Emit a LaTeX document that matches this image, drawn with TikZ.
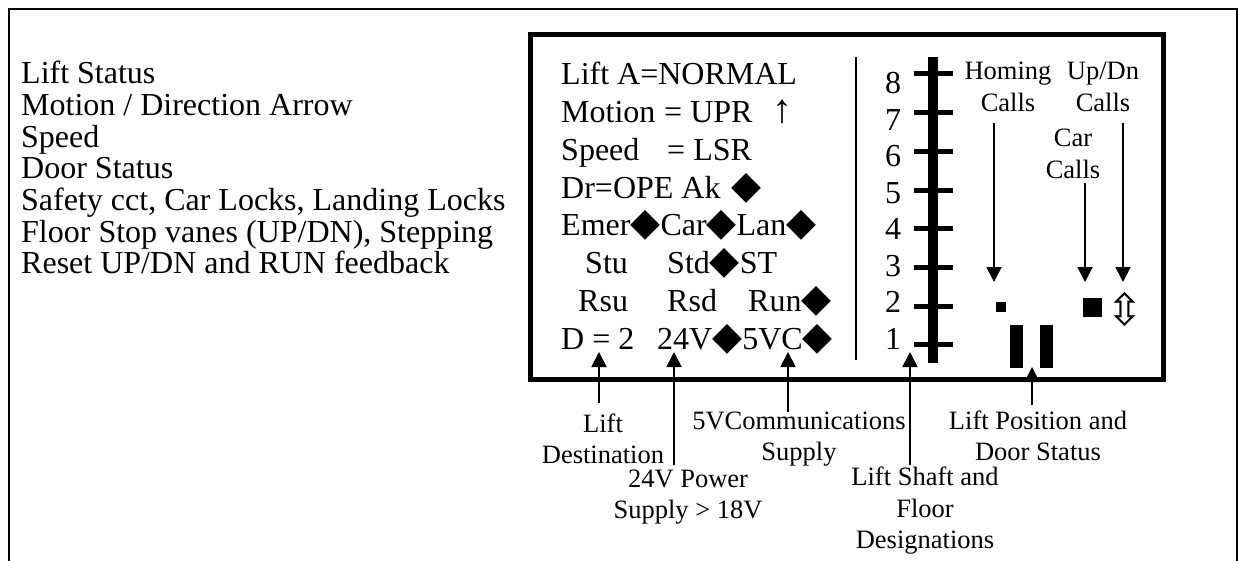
\documentclass[tikz,border=0pt]{standalone}
\usepackage{fontspec}
\setmainfont{Liberation Serif}
\newfontfamily\symfont{DejaVu Sans}
\usetikzlibrary{arrows.meta,calc}
\newcommand{\dia}{{\symfont\fontsize{39}{39}\selectfont ◆}}
\begin{document}
\begin{tikzpicture}[x=1pt,y=-1pt,
  big/.style={font=\fontsize{32}{32}\selectfont, inner sep=0pt, anchor=base west},
  num/.style={font=\fontsize{32}{32}\selectfont, inner sep=0pt, anchor=base},
  lab/.style={font=\fontsize{26.5}{31.5}\selectfont, inner sep=0pt, align=center},
  arr/.style={line width=1.8pt, -{Triangle[width=15pt,length=15pt]}},
  frame/.style={line width=1.5pt},
  box/.style={line width=5pt},
]
\useasboundingbox (0,0) rectangle (1238,561);
% outer frame
\draw[frame] (9,561) -- (9,9) -- (1237,9) -- (1237,561);
% left legend
\foreach \t [count=\i from 0] in {{Lift Status},{Motion / Direction Arrow},{Speed},{Door Status},{Safety cct, Car Locks, Landing Locks},{Floor Stop vanes (UP/DN), Stepping},{Reset UP/DN and RUN feedback}}
  \node[big] (L\i) at (21,{84+31.6*\i}) {\t};
% display box
\draw[box] (530,35) rectangle (1163.5,379.5);
\draw[line width=2pt] (856,57) -- (856,360);
% display text
\node[big] (r0) at (561,85) {Lift A=NORMAL};
\node[big] (r1a) at (561,122.7) {Motion};
\node[big] (r1b) at (664,122.7) {= UPR};
\node[big, font=\fontsize{40}{40}\selectfont] (r1c) at (772,122.7) {↑};
\node[big] (r2a) at (561,160.4) {Speed};
\node[big] (r2b) at (667,160.4) {= LSR};
\node[big] (r3a) at (561,198.1) {Dr=OPE Ak};
\node[big] (r3b) at (731,198.1) {\dia};
\node[big] (r4) at (561,235.8) {Emer\dia Car\dia Lan\dia};
\node[big] (r5a) at (585,273.5) {Stu};
\node[big] (r5b) at (667,273.5) {Std\dia ST};
\node[big] (r6a) at (578,311.2) {Rsu};
\node[big] (r6b) at (667,311.2) {Rsd};
\node[big] (r6c) at (748,311.2) {Run\dia};
\node[big] (r7a) at (561,349) {D = 2};
\node[big] (r7b) at (657,349) {24V\dia 5VC\dia};
% shaft
\draw[line width=10pt] (933,57) -- (933,363);
\foreach \i in {0,...,7}{
  \draw[line width=5pt] (914,{74+38.7*\i}) -- (953,{74+38.7*\i});
  \pgfmathtruncatemacro{\f}{8-\i}
  \node[num] (n\f) at (893,{94+36.43*\i}) {\f};
}
% calls labels
\node[lab] (home) at (1008,87) {Homing\\Calls};
\node[lab] (updn) at (1103,87) {Up/Dn\\Calls};
\node[lab] (car) at (1073,154) {Car\\Calls};
\fill (996,302) rectangle (1006,312);
\fill (1083,298) rectangle (1102,317);
\node[inner sep=0pt, font=\symfont\fontsize{44}{44}\selectfont] (ud) at (1125,309) {⇳};
\fill (1010,325) rectangle (1023,368);
\fill (1040,325) rectangle (1053,368);
\draw[arr] (994,123) -- (994,282);
\draw[arr] (1085,183) -- (1085,282);
\draw[arr] (1123,123) -- (1123,282);
% bottom labels
\node[lab] (dest) at (603,439) {Lift\\Destination};
\node[lab] (five) at (799,439) {5VCommunications\\Supply};
\node[lab] (pow) at (688,497) {24V Power\\Supply > 18V};
\node[lab] (shaft) at (925,511) {Lift Shaft and\\Floor\\Designations};
\node[lab] (pos) at (1038,436) {Lift Position and\\Door Status};
\draw[arr] (599,403) -- (599,352);
\draw[arr] (674,465) -- (674,352);
\draw[arr] (788,412) -- (788,352);
\draw[arr] (910,465) -- (910,352);
\draw[arr] (1032,405) -- (1032,367);
\end{tikzpicture}
\end{document}
